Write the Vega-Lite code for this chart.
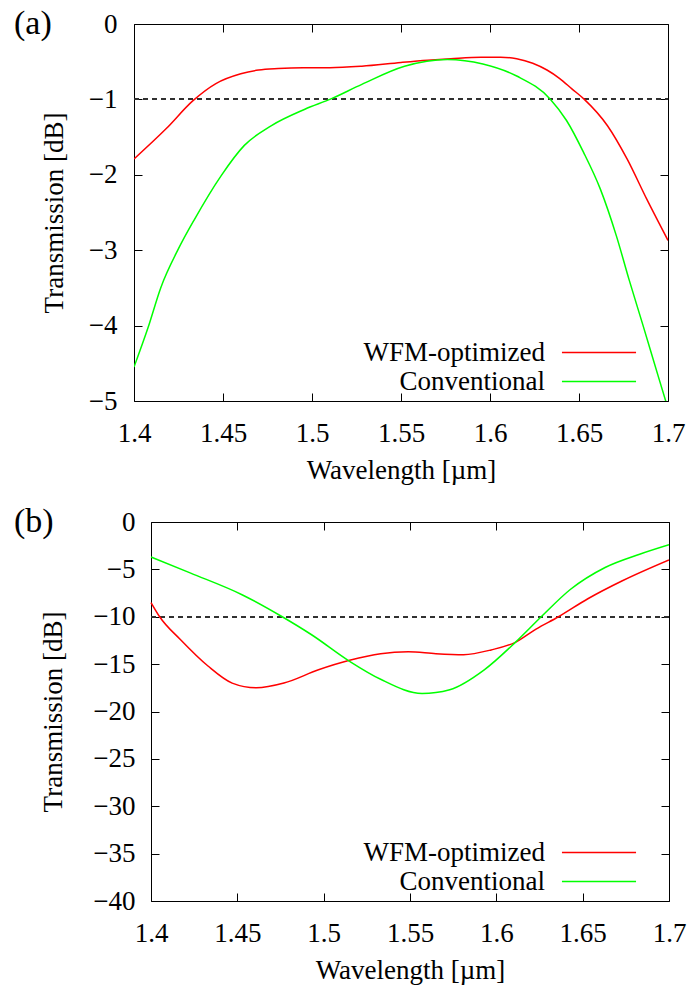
{
  "$schema": "https://vega.github.io/schema/vega-lite/v6.json",
  "padding": {"left": 14, "top": 7, "right": 5, "bottom": 3},
  "datasets": {
    "a": [
      {"wavelength": 1.400, "transmission": -1.79, "series": "WFM-optimized"},
      {"wavelength": 1.418, "transmission": -1.39, "series": "WFM-optimized"},
      {"wavelength": 1.433, "transmission": -1.02, "series": "WFM-optimized"},
      {"wavelength": 1.446, "transmission": -0.79, "series": "WFM-optimized"},
      {"wavelength": 1.460, "transmission": -0.66, "series": "WFM-optimized"},
      {"wavelength": 1.470, "transmission": -0.61, "series": "WFM-optimized"},
      {"wavelength": 1.481, "transmission": -0.59, "series": "WFM-optimized"},
      {"wavelength": 1.495, "transmission": -0.58, "series": "WFM-optimized"},
      {"wavelength": 1.510, "transmission": -0.58, "series": "WFM-optimized"},
      {"wavelength": 1.528, "transmission": -0.56, "series": "WFM-optimized"},
      {"wavelength": 1.550, "transmission": -0.51, "series": "WFM-optimized"},
      {"wavelength": 1.565, "transmission": -0.48, "series": "WFM-optimized"},
      {"wavelength": 1.578, "transmission": -0.46, "series": "WFM-optimized"},
      {"wavelength": 1.595, "transmission": -0.44, "series": "WFM-optimized"},
      {"wavelength": 1.606, "transmission": -0.44, "series": "WFM-optimized"},
      {"wavelength": 1.615, "transmission": -0.46, "series": "WFM-optimized"},
      {"wavelength": 1.624, "transmission": -0.52, "series": "WFM-optimized"},
      {"wavelength": 1.632, "transmission": -0.61, "series": "WFM-optimized"},
      {"wavelength": 1.639, "transmission": -0.72, "series": "WFM-optimized"},
      {"wavelength": 1.646, "transmission": -0.86, "series": "WFM-optimized"},
      {"wavelength": 1.653, "transmission": -1.00, "series": "WFM-optimized"},
      {"wavelength": 1.666, "transmission": -1.35, "series": "WFM-optimized"},
      {"wavelength": 1.677, "transmission": -1.79, "series": "WFM-optimized"},
      {"wavelength": 1.688, "transmission": -2.32, "series": "WFM-optimized"},
      {"wavelength": 1.700, "transmission": -2.87, "series": "WFM-optimized"},
      {"wavelength": 1.400, "transmission": -4.55, "series": "Conventional"},
      {"wavelength": 1.408, "transmission": -4.02, "series": "Conventional"},
      {"wavelength": 1.415, "transmission": -3.50, "series": "Conventional"},
      {"wavelength": 1.425, "transmission": -2.98, "series": "Conventional"},
      {"wavelength": 1.434, "transmission": -2.59, "series": "Conventional"},
      {"wavelength": 1.449, "transmission": -2.01, "series": "Conventional"},
      {"wavelength": 1.462, "transmission": -1.61, "series": "Conventional"},
      {"wavelength": 1.477, "transmission": -1.35, "series": "Conventional"},
      {"wavelength": 1.496, "transmission": -1.13, "series": "Conventional"},
      {"wavelength": 1.511, "transmission": -0.99, "series": "Conventional"},
      {"wavelength": 1.528, "transmission": -0.80, "series": "Conventional"},
      {"wavelength": 1.552, "transmission": -0.56, "series": "Conventional"},
      {"wavelength": 1.576, "transmission": -0.47, "series": "Conventional"},
      {"wavelength": 1.596, "transmission": -0.53, "series": "Conventional"},
      {"wavelength": 1.615, "transmission": -0.69, "series": "Conventional"},
      {"wavelength": 1.634, "transmission": -1.00, "series": "Conventional"},
      {"wavelength": 1.643, "transmission": -1.28, "series": "Conventional"},
      {"wavelength": 1.6525, "transmission": -1.70, "series": "Conventional"},
      {"wavelength": 1.662, "transmission": -2.19, "series": "Conventional"},
      {"wavelength": 1.671, "transmission": -2.81, "series": "Conventional"},
      {"wavelength": 1.678, "transmission": -3.38, "series": "Conventional"},
      {"wavelength": 1.686, "transmission": -4.00, "series": "Conventional"},
      {"wavelength": 1.695, "transmission": -4.71, "series": "Conventional"},
      {"wavelength": 1.700, "transmission": -5.10, "series": "Conventional"}
    ],
    "b": [
      {"wavelength": 1.400, "transmission": -8.5, "series": "WFM-optimized"},
      {"wavelength": 1.405, "transmission": -10.0, "series": "WFM-optimized"},
      {"wavelength": 1.417, "transmission": -12.4, "series": "WFM-optimized"},
      {"wavelength": 1.433, "transmission": -15.2, "series": "WFM-optimized"},
      {"wavelength": 1.447, "transmission": -17.0, "series": "WFM-optimized"},
      {"wavelength": 1.461, "transmission": -17.5, "series": "WFM-optimized"},
      {"wavelength": 1.477, "transmission": -17.0, "series": "WFM-optimized"},
      {"wavelength": 1.497, "transmission": -15.6, "series": "WFM-optimized"},
      {"wavelength": 1.515, "transmission": -14.6, "series": "WFM-optimized"},
      {"wavelength": 1.533, "transmission": -13.9, "series": "WFM-optimized"},
      {"wavelength": 1.549, "transmission": -13.7, "series": "WFM-optimized"},
      {"wavelength": 1.565, "transmission": -13.9, "series": "WFM-optimized"},
      {"wavelength": 1.581, "transmission": -14.0, "series": "WFM-optimized"},
      {"wavelength": 1.597, "transmission": -13.5, "series": "WFM-optimized"},
      {"wavelength": 1.611, "transmission": -12.7, "series": "WFM-optimized"},
      {"wavelength": 1.623, "transmission": -11.3, "series": "WFM-optimized"},
      {"wavelength": 1.636, "transmission": -10.0, "series": "WFM-optimized"},
      {"wavelength": 1.653, "transmission": -8.1, "series": "WFM-optimized"},
      {"wavelength": 1.673, "transmission": -6.2, "series": "WFM-optimized"},
      {"wavelength": 1.700, "transmission": -4.0, "series": "WFM-optimized"},
      {"wavelength": 1.400, "transmission": -3.7, "series": "Conventional"},
      {"wavelength": 1.423, "transmission": -5.4, "series": "Conventional"},
      {"wavelength": 1.453, "transmission": -7.7, "series": "Conventional"},
      {"wavelength": 1.476, "transmission": -10.0, "series": "Conventional"},
      {"wavelength": 1.493, "transmission": -11.9, "series": "Conventional"},
      {"wavelength": 1.515, "transmission": -14.7, "series": "Conventional"},
      {"wavelength": 1.533, "transmission": -16.6, "series": "Conventional"},
      {"wavelength": 1.557, "transmission": -18.1, "series": "Conventional"},
      {"wavelength": 1.573, "transmission": -17.7, "series": "Conventional"},
      {"wavelength": 1.593, "transmission": -15.6, "series": "Conventional"},
      {"wavelength": 1.611, "transmission": -12.7, "series": "Conventional"},
      {"wavelength": 1.626, "transmission": -10.0, "series": "Conventional"},
      {"wavelength": 1.643, "transmission": -7.1, "series": "Conventional"},
      {"wavelength": 1.663, "transmission": -4.8, "series": "Conventional"},
      {"wavelength": 1.683, "transmission": -3.4, "series": "Conventional"},
      {"wavelength": 1.700, "transmission": -2.4, "series": "Conventional"}
    ]
  },
  "vconcat": [
    {
      "width": 534,
      "height": 377,
      "title": {"text": "(a)", "anchor": "start", "frame": "group", "dx": -120, "dy": 31, "offset": 0},
      "data": {"name": "a"},
      "layer": [
        {
          "mark": {"type": "rule", "color": "#333333", "strokeDash": [5, 4], "strokeWidth": 1},
          "encoding": {
            "y": {"datum": -1, "type": "quantitative", "axis": null},
            "x": {"datum": 1.4, "type": "quantitative", "axis": null},
            "x2": {"datum": 1.7}
          }
        },
        {
          "transform": [{"filter": "datum.series === 'WFM-optimized'"}],
          "mark": {"type": "line", "strokeWidth": 1.5, "clip": true, "interpolate": "monotone"},
          "encoding": {
            "x": {"field": "wavelength", "type": "quantitative", "scale": {"domain": [1.4, 1.7], "nice": false, "zero": false},
              "axis": {"orient": "bottom", "title": "Wavelength [µm]", "values": [1.4, 1.45, 1.5, 1.55, 1.6, 1.65, 1.7], "format": ".2~f", "labelPadding": 27, "titlePadding": 11}},
            "y": {"field": "transmission", "type": "quantitative", "scale": {"domain": [-5, 0], "nice": false, "zero": false},
              "axis": {"orient": "left", "title": "Transmission [dB]", "values": [-5, -4, -3, -2, -1, 0], "labelPadding": 25, "titlePadding": 20}},
            "color": {"field": "series", "type": "nominal", "scale": {"domain": ["WFM-optimized", "Conventional"], "range": ["#ff0000", "#00ff00"]},
              "legend": {"orient": "none", "legendX": 428, "legendY": 315, "title": null}}
          }
        },
        {
          "transform": [{"filter": "datum.series === 'Conventional'"}],
          "mark": {"type": "line", "strokeWidth": 1.5, "clip": true, "interpolate": "monotone"},
          "encoding": {
            "x": {"field": "wavelength", "type": "quantitative", "scale": {"domain": [1.4, 1.7], "nice": false, "zero": false},
              "axis": {"orient": "top", "title": null, "labels": false, "values": [1.4, 1.45, 1.5, 1.55, 1.6, 1.65, 1.7]}},
            "y": {"field": "transmission", "type": "quantitative", "scale": {"domain": [-5, 0], "nice": false, "zero": false},
              "axis": {"orient": "right", "title": null, "labels": false, "values": [-5, -4, -3, -2, -1, 0]}},
            "color": {"field": "series", "type": "nominal", "scale": {"domain": ["WFM-optimized", "Conventional"], "range": ["#ff0000", "#00ff00"]},
              "legend": {"orient": "none", "legendX": 428, "legendY": 315, "title": null}}
          }
        }
      ]
    },
    {
      "width": 535,
      "height": 379,
      "title": {"text": "(b)", "anchor": "start", "frame": "group", "dx": -120, "dy": 31, "offset": 0},
      "data": {"name": "b"},
      "layer": [
        {
          "mark": {"type": "rule", "color": "#333333", "strokeDash": [5, 4], "strokeWidth": 1},
          "encoding": {
            "y": {"datum": -10, "type": "quantitative", "axis": null},
            "x": {"datum": 1.4, "type": "quantitative", "axis": null},
            "x2": {"datum": 1.7}
          }
        },
        {
          "transform": [{"filter": "datum.series === 'WFM-optimized'"}],
          "mark": {"type": "line", "strokeWidth": 1.5, "clip": true, "interpolate": "monotone"},
          "encoding": {
            "x": {"field": "wavelength", "type": "quantitative", "scale": {"domain": [1.4, 1.7], "nice": false, "zero": false, "range": [17, 535]},
              "axis": {"orient": "bottom", "title": "Wavelength [µm]", "values": [1.4, 1.45, 1.5, 1.55, 1.6, 1.65, 1.7], "format": ".2~f", "labelPadding": 27, "titlePadding": 11}},
            "y": {"field": "transmission", "type": "quantitative", "scale": {"domain": [-40, 0], "nice": false, "zero": false},
              "axis": {"orient": "left", "offset": -17, "title": "Transmission [dB]", "values": [-40, -35, -30, -25, -20, -15, -10, -5, 0], "labelPadding": 24, "titlePadding": 25}},
            "color": {"field": "series", "type": "nominal", "scale": {"domain": ["WFM-optimized", "Conventional"], "range": ["#ff0000", "#00ff00"]},
              "legend": {"orient": "none", "legendX": 428, "legendY": 317, "title": null}}
          }
        },
        {
          "transform": [{"filter": "datum.series === 'Conventional'"}],
          "mark": {"type": "line", "strokeWidth": 1.5, "clip": true, "interpolate": "monotone"},
          "encoding": {
            "x": {"field": "wavelength", "type": "quantitative", "scale": {"domain": [1.4, 1.7], "nice": false, "zero": false, "range": [17, 535]},
              "axis": {"orient": "top", "title": null, "labels": false, "values": [1.4, 1.45, 1.5, 1.55, 1.6, 1.65, 1.7]}},
            "y": {"field": "transmission", "type": "quantitative", "scale": {"domain": [-40, 0], "nice": false, "zero": false},
              "axis": {"orient": "right", "title": null, "labels": false, "values": [-40, -35, -30, -25, -20, -15, -10, -5, 0]}},
            "color": {"field": "series", "type": "nominal", "scale": {"domain": ["WFM-optimized", "Conventional"], "range": ["#ff0000", "#00ff00"]},
              "legend": {"orient": "none", "legendX": 428, "legendY": 317, "title": null}}
          }
        }
      ]
    }
  ],
  "spacing": 22,
  "resolve": {"scale": {"x": "independent", "y": "independent", "color": "independent"}, "legend": {"color": "independent"}},
  "config": {
    "font": "Liberation Serif",
    "view": {"stroke": null},
    "title": {"font": "Liberation Serif", "fontSize": 34, "fontWeight": "normal", "color": "#000000"},
    "axis": {
      "labelFont": "Liberation Serif", "labelFontSize": 27, "labelColor": "#000000",
      "titleFont": "Liberation Serif", "titleFontSize": 27, "titleFontWeight": "normal", "titleColor": "#000000",
      "tickColor": "#000000", "tickSize": -8, "tickWidth": 1,
      "domain": true, "domainColor": "#000000", "domainWidth": 1, "grid": false,
      "labelFlush": false, "labelOverlap": false
    },
    "legend": {
      "symbolType": "M-7,0H7", "symbolSize": 112, "symbolStrokeWidth": 1.5, "symbolFillColor": "transparent",
      "labelFont": "Liberation Serif", "labelFontSize": 27, "labelColor": "#000000",
      "labelAlign": "right", "labelOffset": -67.5, "symbolOffset": 23.5, "labelLimit": 0,
      "rowPadding": 1, "padding": 0
    }
  }
}
